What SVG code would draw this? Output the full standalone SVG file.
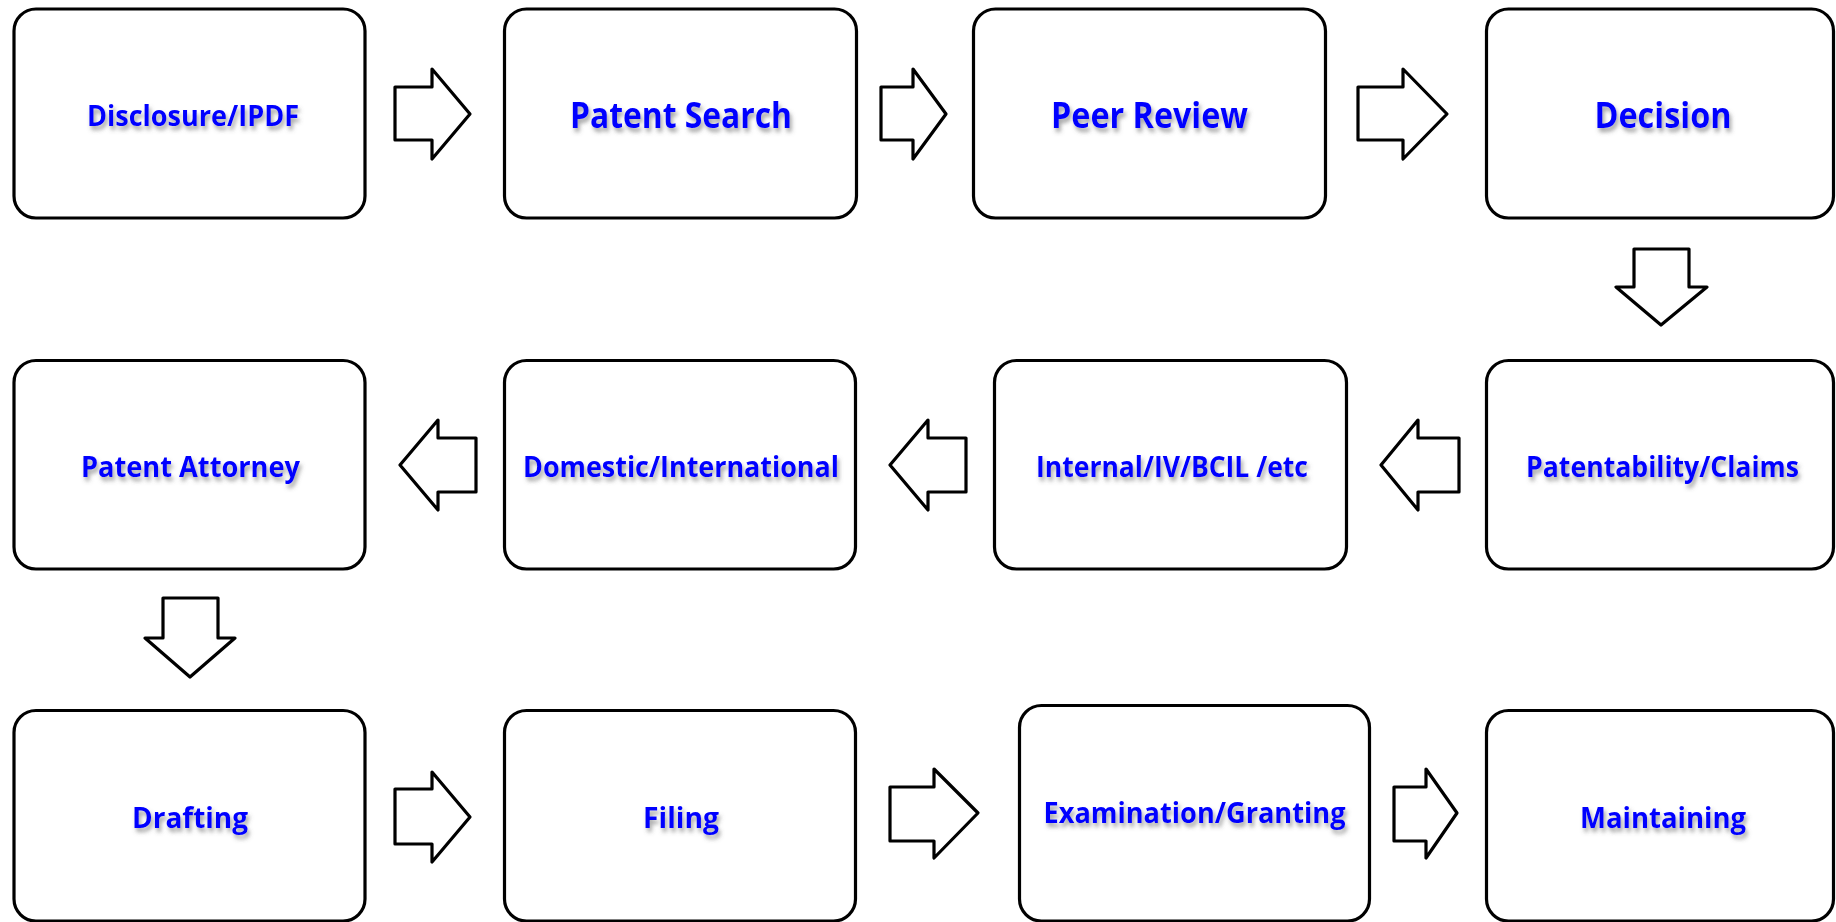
<svg xmlns="http://www.w3.org/2000/svg" width="1836" height="922" viewBox="0 0 1836 922">
<defs>
<filter id="sh" x="-10%" y="-40%" width="120%" height="200%">
<feDropShadow dx="2" dy="4" stdDeviation="2.2" flood-color="#555" flood-opacity="0.55"/>
</filter>
<style>
.box{fill:#fff;stroke:#000;stroke-width:3.2}
.arr{fill:#fff;stroke:#000;stroke-width:3.2;stroke-linejoin:round}
.lbl{font-family:"Open Sans","Noto Sans","Liberation Sans",sans-serif;font-weight:bold;fill:#0000ff;text-anchor:middle;filter:url(#sh)}
.s{font-size:28px}
.l{font-size:35px}
</style>
</defs>
<rect width="1836" height="922" fill="#fff"/>
<g id="connectors">
<polygon class="arr" points="395,87 432,87 432,69 470,114 432,159 432,140 395,140"/>
<polygon class="arr" points="881,87 913,87 913,69 946,114 913,159 913,140 881,140"/>
<polygon class="arr" points="1358,87 1403,87 1403,69 1447,114 1403,159 1403,140 1358,140"/>
<polygon class="arr" points="1634,249 1689,249 1689,287 1707,287 1661,325 1616,287 1634,287"/>
<polygon class="arr" points="1459,438 1418,438 1418,420 1381,465 1418,510 1418,492 1459,492"/>
<polygon class="arr" points="966,438 928,438 928,420 890,465 928,510 928,492 966,492"/>
<polygon class="arr" points="476,438 438,438 438,420 400,465 438,510 438,492 476,492"/>
<polygon class="arr" points="163,598 218,598 218,638 235,638 190,677 145,638 163,638"/>
<polygon class="arr" points="395,789 432,789 432,772 470,817 432,862 432,844 395,844"/>
<polygon class="arr" points="890,787 934,787 934,769 978,813 934,858 934,841 890,841"/>
<polygon class="arr" points="1394,787 1426,787 1426,769 1457,813 1426,858 1426,841 1394,841"/>
</g>
<g id="n1"><rect class="box" x="14" y="9" width="351" height="209" rx="22"/><text class="lbl s" x="193" y="126" textLength="212" lengthAdjust="spacingAndGlyphs">Disclosure/IPDF</text></g>
<g id="n2"><rect class="box" x="504.5" y="9" width="352" height="209" rx="22"/><text class="lbl l" x="681" y="128" textLength="222" lengthAdjust="spacingAndGlyphs">Patent Search</text></g>
<g id="n3"><rect class="box" x="973.5" y="9" width="352" height="209" rx="22"/><text class="lbl l" x="1149.5" y="128" textLength="197" lengthAdjust="spacingAndGlyphs">Peer Review</text></g>
<g id="n4"><rect class="box" x="1486.5" y="9" width="347" height="209" rx="22"/><text class="lbl l" x="1663" y="128" textLength="137" lengthAdjust="spacingAndGlyphs">Decision</text></g>
<g id="n5"><rect class="box" x="1486.5" y="360.5" width="347" height="208.5" rx="22"/><text class="lbl s" x="1662.5" y="477" textLength="273" lengthAdjust="spacingAndGlyphs">Patentability/Claims</text></g>
<g id="n6"><rect class="box" x="994.5" y="360.5" width="352" height="208.5" rx="22"/><text class="lbl s" x="1172" y="477" textLength="272" lengthAdjust="spacingAndGlyphs">Internal/IV/BCIL /etc</text></g>
<g id="n7"><rect class="box" x="504.5" y="360.5" width="351" height="208.5" rx="22"/><text class="lbl s" x="681" y="477" textLength="316" lengthAdjust="spacingAndGlyphs">Domestic/International</text></g>
<g id="n8"><rect class="box" x="14" y="360.5" width="351" height="208.5" rx="22"/><text class="lbl s" x="190.5" y="477" textLength="219" lengthAdjust="spacingAndGlyphs">Patent Attorney</text></g>
<g id="n9"><rect class="box" x="14" y="710.5" width="351" height="210.5" rx="22"/><text class="lbl s" x="190" y="828" textLength="116" lengthAdjust="spacingAndGlyphs">Drafting</text></g>
<g id="n10"><rect class="box" x="504.5" y="710.5" width="351" height="210.5" rx="22"/><text class="lbl s" x="681" y="828" textLength="76" lengthAdjust="spacingAndGlyphs">Filing</text></g>
<g id="n11"><rect class="box" x="1019.5" y="705.5" width="350" height="215.5" rx="22"/><text class="lbl s" x="1194.5" y="823" textLength="302" lengthAdjust="spacingAndGlyphs">Examination/Granting</text></g>
<g id="n12"><rect class="box" x="1486.5" y="710.5" width="347" height="210.5" rx="22"/><text class="lbl s" x="1663" y="828" textLength="166" lengthAdjust="spacingAndGlyphs">Maintaining</text></g>
</svg>
